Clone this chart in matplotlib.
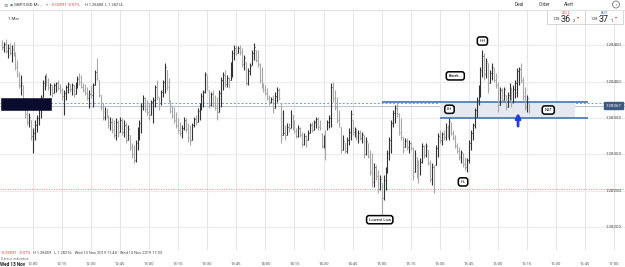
import numpy as np
import matplotlib
matplotlib.use('Agg')
import matplotlib.pyplot as plt
import matplotlib.transforms as mtransforms
from matplotlib.patches import Rectangle, Ellipse

plt.rcParams['font.family'] = ['Roboto', 'DejaVu Sans']

# GBP/USD 1-minute bars, 11:44 .. 16:16, prices in points above 1.28000
start_time = '11:44'
high_pts = [457, 455, 459, 452, 453, 451, 455, 441, 430, 413,
            409, 395, 378, 361, 357, 347, 336, 347, 354, 365,
            382, 402, 409, 412, 405, 398, 395, 398, 400, 402,
            397, 391, 389, 395, 400, 397, 398, 395, 400, 408,
            412, 409, 398, 397, 393, 389, 395, 398, 416, 433,
            402, 382, 371, 365, 364, 354, 351, 350, 347, 350,
            347, 351, 350, 347, 345, 340, 327, 316, 313, 320,
            338, 347, 371, 382, 379, 375, 371, 375, 379, 395,
            402, 379, 389, 402, 426, 416, 405, 375, 368, 365,
            358, 350, 345, 340, 351, 350, 343, 340, 343, 351,
            354, 364, 371, 384, 389, 413, 409, 389, 386, 389,
            382, 379, 389, 406, 413, 416, 409, 406, 427, 444,
            451, 451, 449, 451, 446, 437, 427, 419, 426, 444,
            453, 444, 444, 426, 420, 398, 395, 391, 382, 379,
            382, 386, 393, 391, 371, 361, 340, 343, 343, 361,
            354, 347, 336, 340, 338, 331, 329, 327, 333, 343,
            345, 347, 351, 351, 347, 329, 327, 333, 347, 354,
            398, 400, 389, 379, 361, 338, 327, 316, 324, 336,
            361, 347, 338, 336, 333, 333, 331, 327, 324, 316,
            306, 302, 288, 285, 278, 271, 261, 271, 283, 306,
            324, 347, 361, 368, 372, 357, 350, 324, 322, 322,
            320, 317, 310, 306, 296, 292, 295, 316, 313, 316,
            306, 292, 288, 285, 313, 329, 333, 331, 333, 343,
            340, 350, 345, 333, 327, 316, 310, 306, 302, 296,
            295, 320, 333, 343, 364, 379, 395, 420, 444, 440,
            433, 426, 416, 426, 419, 412, 400, 393, 391, 393,
            382, 386, 398, 393, 395, 402, 419, 420, 426, 406,
            393, 382, 371]
low_pts = [444, 441, 440, 433, 437, 427, 435, 416, 406, 391,
           382, 375, 350, 340, 338, 320, 302, 320, 331, 340,
           350, 379, 389, 394, 389, 382, 379, 384, 386, 389,
           384, 375, 354, 375, 384, 386, 382, 379, 383, 391,
           395, 391, 386, 382, 375, 364, 378, 365, 395, 402,
           379, 361, 347, 347, 350, 336, 333, 329, 322, 320,
           324, 331, 327, 324, 316, 320, 306, 295, 288, 289,
           306, 320, 329, 361, 358, 354, 347, 354, 343, 365,
           375, 361, 368, 379, 384, 389, 372, 357, 350, 343,
           336, 329, 325, 322, 333, 331, 317, 313, 320, 338,
           340, 345, 347, 361, 365, 384, 389, 364, 367, 365,
           361, 347, 358, 365, 389, 393, 393, 391, 402, 406,
           430, 437, 440, 437, 420, 416, 395, 395, 409, 423,
           430, 427, 420, 398, 391, 386, 382, 375, 368, 371,
           357, 364, 372, 375, 316, 327, 320, 327, 331, 336,
           333, 329, 322, 324, 324, 310, 313, 310, 320, 329,
           331, 333, 336, 333, 333, 309, 309, 292, 333, 336,
           338, 372, 361, 343, 338, 302, 306, 302, 302, 313,
           320, 327, 324, 320, 316, 320, 316, 295, 299, 295,
           271, 255, 255, 265, 247, 251, 217, 237, 251, 274,
           292, 302, 338, 343, 351, 327, 320, 302, 310, 306,
           302, 306, 265, 276, 267, 261, 271, 288, 295, 296,
           285, 262, 258, 247, 285, 296, 316, 313, 320, 320,
           322, 320, 327, 320, 309, 302, 292, 288, 283, 278,
           276, 288, 306, 320, 336, 351, 368, 379, 406, 402,
           405, 384, 398, 402, 400, 391, 358, 368, 372, 375,
           361, 365, 375, 365, 371, 378, 379, 395, 398, 375,
           361, 358, 357]
close_pts = [448, 452, 442, 447, 440, 445, 438, 420, 410, 395,
             398, 378, 355, 345, 352, 325, 330, 340, 350, 362,
             378, 398, 405, 399, 392, 395, 384, 396, 398, 391,
             388, 380, 385, 392, 397, 390, 395, 383, 397, 404,
             399, 393, 388, 385, 378, 383, 381, 395, 413, 405,
             382, 365, 352, 358, 352, 340, 345, 333, 326, 345,
             328, 347, 331, 340, 320, 335, 310, 300, 292, 315,
             334, 343, 366, 378, 362, 358, 350, 372, 375, 392,
             380, 370, 386, 399, 420, 392, 375, 360, 353, 347,
             340, 333, 330, 336, 347, 335, 322, 318, 340, 348,
             345, 360, 368, 380, 386, 410, 392, 368, 383, 370,
             364, 352, 385, 402, 409, 397, 405, 403, 424, 440,
             447, 440, 446, 441, 425, 433, 398, 415, 422, 440,
             448, 430, 424, 402, 394, 389, 385, 377, 372, 376,
             361, 380, 389, 378, 322, 330, 324, 338, 335, 357,
             337, 332, 325, 336, 327, 314, 325, 313, 330, 340,
             334, 344, 348, 337, 336, 312, 322, 300, 344, 350,
             392, 378, 365, 347, 342, 306, 318, 305, 320, 331,
             355, 331, 334, 324, 330, 323, 328, 300, 318, 298,
             276, 262, 283, 270, 252, 266, 240, 265, 278, 302,
             320, 343, 357, 364, 356, 331, 324, 306, 318, 310,
             315, 309, 270, 300, 272, 266, 290, 311, 299, 312,
             288, 266, 282, 252, 309, 325, 320, 328, 324, 338,
             326, 346, 330, 322, 312, 305, 296, 303, 286, 282,
             292, 316, 330, 340, 361, 375, 392, 416, 436, 410,
             428, 390, 412, 420, 403, 395, 363, 388, 375, 390,
             365, 382, 395, 370, 390, 398, 415, 417, 402, 380,
             365, 378, 367]
first_open_pts = 450

time_labels = ['12:00', '12:15', '12:30', '12:45', '13:00', '13:15', '13:30',
               '13:45', '14:00', '14:15', '14:30', '14:45', '15:00', '15:15',
               '15:30', '15:45', '16:00', '16:15', '16:30', '16:45', '17:00']
price_levels = [1.28200, 1.28250, 1.28300, 1.28350, 1.28400, 1.28450]

current_price = 1.28367
buy_price = 1.28371
sell_line = 1.28366
prev_close = 1.28252
zone_top, zone_bottom = 1.28372, 1.28350

# annotations: (label, time, price)
notes = [('HH', '15:52', 1.28456), ('Break...', '15:38', 1.28408),
         ('LH', '15:35', 1.28362), ('NST', '16:26', 1.28361),
         ('HL', '15:42', 1.28262), ('Lowest Low', '14:59', 1.28210)]


def tmin(s):
    h, m = map(int, s.split(':'))
    h0, m0 = map(int, start_time.split(':'))
    return (h * 60 + m) - (h0 * 60 + m0)


hi = 1.28 + np.array(high_pts) / 1e5
lo = 1.28 + np.array(low_pts) / 1e5
cl = 1.28 + np.array(close_pts) / 1e5
op = 1.28 + np.array([first_open_pts] + close_pts[:-1]) / 1e5
op = np.clip(op, lo, hi)
x = np.arange(len(hi))

W, H = 625, 267
fig = plt.figure(figsize=(W / 100, H / 100), dpi=100, facecolor='white')
ax = fig.add_axes([0, 17 / H, 1, 240 / H])
ax.set_xlim(-1.0, 321.6)
ax.set_ylim(1.2816825, 1.284987)
ax.axis('off')

# grid
for t in time_labels:
    ax.axvline(tmin(t), color='#e6e6e6', lw=0.8, zorder=0)
for p in price_levels:
    ax.axhline(p, color='#ececec', lw=0.8, zorder=0)

# reference lines
ax.axhline(prev_close, color='#f08a80', lw=0.7, ls=(0, (1, 1.5)), zorder=1)
ax.axhline(sell_line, color='#bcc7d6', lw=0.8, zorder=1)
ax.axhline(buy_price, color='#6a9fd8', lw=0.7, ls=(0, (2, 2)), zorder=1)

# zone
ax.fill_between([tmin('15:30'), tmin('16:40')], zone_bottom, buy_price,
                color='#e5e8ee', zorder=1, lw=0)
ax.hlines(zone_top, tmin('15:00'), tmin('16:45') + 1.5, color='#4f7fb8', lw=1.3, zorder=2)
ax.hlines(zone_bottom, tmin('15:30'), tmin('16:45') + 1.5, color='#4f7fb8', lw=1.3, zorder=2)

# OHLC bars
up = cl >= op
cols = np.where(up, '#333333', '#a8a8a8')
ax.vlines(x, lo, hi, colors=cols, lw=0.8, zorder=3)
ax.hlines(op, x - 0.45, x, colors=cols, lw=0.6, zorder=3)
ax.hlines(cl, x, x + 0.45, colors=cols, lw=0.6, zorder=3)

# dark overlay block at left
ax.add_patch(Rectangle((-0.5, 1.28361), 26, 0.00017, facecolor='#0b0b2e',
                       edgecolor='#222244', lw=0.5, zorder=5))

# callouts
for label, t, p in notes:
    ax.text(tmin(t), p, label, fontsize=3, ha='center', va='center', zorder=6,
            bbox=dict(boxstyle='round,pad=0.5,rounding_size=0.6', fc='white', ec='black', lw=1.1))

# blue arrow
ax.annotate('', xy=(tmin('16:10') + 0.4, 1.28361), xytext=(tmin('16:10') + 0.4, 1.28335),
            arrowprops=dict(arrowstyle='-|>', color='#1f3fd8', lw=2.0, mutation_scale=7),
            zorder=6)

# price labels on the right
ytr = mtransforms.blended_transform_factory(ax.transAxes, ax.transData)
for p in price_levels:
    ax.text(0.995, p, f'{p:.5f}', transform=ytr, fontsize=3.2, ha='right',
            va='center', color='#444444')
ax.text(0.995, current_price, f'{current_price:.5f}', transform=ytr, fontsize=3.2,
        ha='right', va='center', color='white', zorder=7,
        bbox=dict(boxstyle='square,pad=0.35', fc='#3d5a80', ec='#3d5a80'))

# time labels
xtr = mtransforms.blended_transform_factory(ax.transData, fig.transFigure)
for t in time_labels:
    ax.text(tmin(t), 1 - 264 / H, t, transform=xtr, fontsize=3, ha='center',
            va='center', color='#555555')


def ftxt(px, py, s, **kw):
    kw.setdefault('fontsize', 3.4)
    kw.setdefault('va', 'center')
    fig.text(px / W, 1 - py / H, s, **kw)


ftxt(0, 264, 'Wed 13 Nov', fontsize=3.4, fontweight='bold', color='#222222')

# header
fig.add_artist(plt.Line2D([0, 1], [1 - 10 / H, 1 - 10 / H], color='#e0e0e0', lw=0.8))
ftxt(3, 4.5, '\u2261', color='#888888', fontsize=4)
ftxt(10, 4.5, '\u25cf', color='#2e9e44', fontsize=2.5)
ftxt(14, 4.5, 'GBP/USD Mi...', color='#333333', fontsize=3.2)
ftxt(46, 4.5, '\u25be', color='#999999', fontsize=3)
ftxt(51, 4.5, '-0.00091 -0.07%', color='#e53935', fontsize=2.9)
ftxt(85, 4.5, 'H 1.28488  L 1.28214', color='#444444', fontsize=2.9)
ftxt(8, 19, '1 Min', color='#333333', fontsize=3.2)

ftxt(519, 4.5, 'Deal', color='#333333', fontsize=3.4, ha='center')
ftxt(545, 4.5, 'Order', color='#333333', fontsize=3.4, ha='center')
ftxt(569, 4.5, 'Alert', color='#333333', fontsize=3.4, ha='center')
fig.add_artist(Ellipse((616 / W, 1 - 4.5 / H), 7 / W, 7 / H, transform=fig.transFigure,
                       facecolor='none', edgecolor='#777777', lw=0.6))
ftxt(616, 4.7, 'i', color='#666666', fontsize=3.2, ha='center')

for bx, word, wc, big, small in [(547, 'SELL', '#e53935', '36', '2'),
                                 (585, 'BUY', '#2f6fd6', '37', '1')]:
    fig.add_artist(Rectangle((bx / W, 1 - 24 / H), 38 / W, 14 / H, transform=fig.transFigure,
                             facecolor='white', edgecolor='#d0d0d0', lw=0.6))
    ftxt(bx + 19, 13.5, word, color=wc, fontsize=2.8, ha='center')
    ftxt(bx + 13, 19.5, '1.28', color='#333333', fontsize=2.8, ha='right')
    ftxt(bx + 13.5, 20, big, color='#222222', fontsize=6.5, ha='left')
    ftxt(bx + 26, 21, small, color='#222222', fontsize=3, ha='left')
    ftxt(bx + 30, 17.5, '\u25be', color='#e53935', fontsize=3, ha='left')

# bottom info
ftxt(1, 253, '-0.00091  -0.07%', color='#e53935', fontsize=2.9)
ftxt(33, 253, 'H 1.28459   L 1.28216   Wed 13 Nov 2019 11:44 - Wed 13 Nov 2019 17:03',
     color='#444444', fontsize=2.9)
ftxt(1, 259, 'Data is indicative', color='#777777', fontsize=2.6)

fig.savefig('out.png', dpi=100, facecolor='white')
